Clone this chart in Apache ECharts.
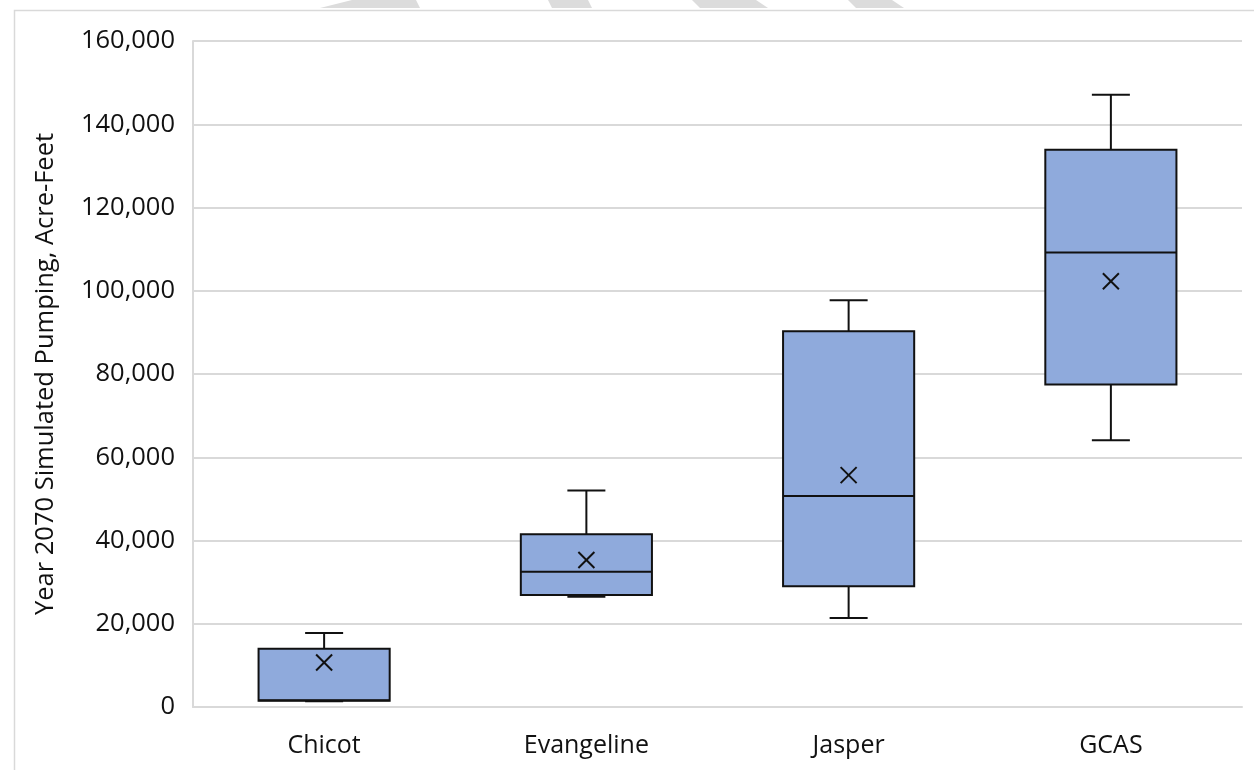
<!DOCTYPE html>
<html>
<head>
<meta charset="utf-8">
<title>Year 2070 Simulated Pumping</title>
<script src="https://cdn.jsdelivr.net/npm/echarts@6/dist/echarts.min.js"></script>
<style>
  html, body { margin: 0; padding: 0; background: #fff; }
  #chart { width: 1254px; height: 770px; }
</style>
</head>
<body>
<div id="chart"></div>
<script>
// box plot statistics per aquifer (acre-feet)
const categories = ['Chicot', 'Evangeline', 'Jasper', 'GCAS']
const minValues = [1400, 26500, 21400, 64100]
const q1Values = [1500, 26900, 29000, 77500]
const medianValues = [1600, 32500, 50700, 109200]
const q3Values = [14000, 41500, 90300, 133900]
const maxValues = [17800, 52000, 97700, 147100]
const meanValues = [10700, 35300, 55700, 102300]

const lineColor = '#111'
const boxFill = '#8faadc'

const chart = echarts.init(document.getElementById('chart'))

const renderBox = (params, api) => {
  const i = api.value(0)
  const band = api.size([1, 0])[0]
  const half = band * 0.25
  const cap = 19
  const pMin = api.coord([i, api.value(1)])
  const pQ1 = api.coord([i, api.value(2)])
  const pMed = api.coord([i, api.value(3)])
  const pQ3 = api.coord([i, api.value(4)])
  const pMax = api.coord([i, api.value(5)])
  const pMean = api.coord([i, api.value(6)])
  const x = pQ1[0]
  const stroke = { stroke: lineColor, lineWidth: 2 }
  const m = 8
  return {
    type: 'group',
    children: [
      { type: 'line', shape: { x1: x, y1: pMax[1], x2: x, y2: pQ3[1] }, style: stroke },
      { type: 'line', shape: { x1: x - cap, y1: pMax[1], x2: x + cap, y2: pMax[1] }, style: stroke },
      { type: 'line', shape: { x1: x, y1: pQ1[1], x2: x, y2: pMin[1] }, style: stroke },
      { type: 'line', shape: { x1: x - cap, y1: pMin[1], x2: x + cap, y2: pMin[1] }, style: stroke },
      {
        type: 'rect',
        shape: { x: x - half, y: pQ3[1], width: half * 2, height: pQ1[1] - pQ3[1] },
        style: { fill: boxFill, stroke: lineColor, lineWidth: 2 }
      },
      { type: 'line', shape: { x1: x - half, y1: pMed[1], x2: x + half, y2: pMed[1] }, style: stroke },
      { type: 'line', shape: { x1: x - m, y1: pMean[1] - m, x2: x + m, y2: pMean[1] + m }, style: stroke },
      { type: 'line', shape: { x1: x - m, y1: pMean[1] + m, x2: x + m, y2: pMean[1] - m }, style: stroke }
    ]
  }
}

const font = '"Open Sans", sans-serif'

const option = {
  backgroundColor: '#fff',
  animation: false,
  textStyle: { fontFamily: font },
  graphic: [
    {
      type: 'rect',
      left: 12, top: 8,
      shape: { width: 1300, height: 800 },
      style: { fill: 'none', stroke: '#d9d9d9', lineWidth: 1.5 },
      silent: true
    },
    // faint watermark strokes cut off at the top edge
    { type: 'polygon', shape: { points: [[352, 0], [416, 0], [420, 8], [320, 8]] }, style: { fill: '#dcdcdc' }, silent: true },
    { type: 'polygon', shape: { points: [[548, 0], [588, 0], [592, 8], [552, 8]] }, style: { fill: '#dcdcdc' }, silent: true },
    { type: 'polygon', shape: { points: [[692, 0], [756, 0], [768, 8], [700, 8]] }, style: { fill: '#dcdcdc' }, silent: true },
    { type: 'polygon', shape: { points: [[848, 0], [892, 0], [904, 8], [856, 8]] }, style: { fill: '#dcdcdc' }, silent: true }
  ],
  grid: { left: 193, right: 12, top: 41, bottom: 63 },
  xAxis: {
    type: 'category',
    data: categories,
    axisTick: { show: false },
    axisLine: { lineStyle: { color: '#d9d9d9', width: 2 } },
    axisLabel: { color: '#111', fontSize: 25, margin: 26, fontFamily: font }
  },
  yAxis: {
    type: 'value',
    min: 0,
    max: 160000,
    interval: 20000,
    name: 'Year 2070 Simulated Pumping, Acre-Feet',
    nameLocation: 'middle',
    nameGap: 134,
    nameTextStyle: { color: '#111', fontSize: 25.5, fontFamily: font },
    axisLine: { show: true, lineStyle: { color: '#d9d9d9', width: 2 } },
    axisTick: { show: false },
    splitLine: { lineStyle: { color: '#d9d9d9', width: 2 } },
    axisLabel: {
      color: '#111',
      fontSize: 25.5,
      margin: 18,
      fontFamily: font,
      formatter: v => v.toLocaleString('en-US')
    }
  },
  series: [
    {
      type: 'custom',
      renderItem: renderBox,
      encode: { x: 0, y: [1, 2, 3, 4, 5, 6] },
      data: categories.map((c, i) => [
        i, minValues[i], q1Values[i], medianValues[i], q3Values[i], maxValues[i], meanValues[i]
      ])
    }
  ]
}

chart.setOption(option)
</script>
</body>
</html>
